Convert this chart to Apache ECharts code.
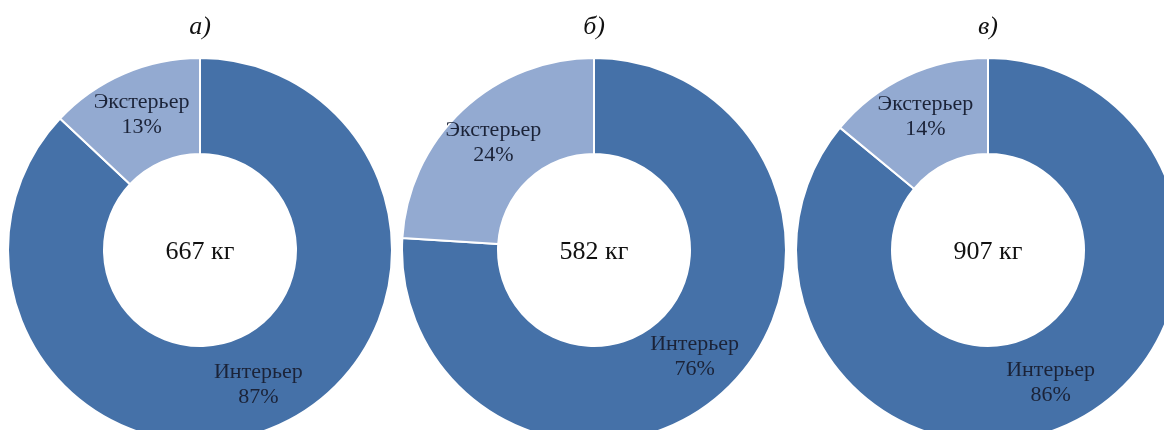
<!DOCTYPE html>
<html>
<head>
<meta charset="utf-8">
<script src="https://cdn.jsdelivr.net/npm/echarts@6/dist/echarts.min.js"></script>
<style>
  html, body { margin: 0; padding: 0; background: #fff; }
  #chart { width: 1164px; height: 430px; }
</style>
</head>
<body>
<div id="chart"></div>
<script>
const panelTitles = ['а)', 'б)', 'в)'];
const totals = [667, 582, 907];
const sliceNames = ['Интерьер', 'Экстерьер'];
const interiorPct = [87, 76, 86];
const exteriorPct = [13, 24, 14];

const centersX = [200, 594, 988];
const centerY = 250;
const colors = ['#4571a8', '#93aad1'];
const serif = '"Liberation Serif", "DejaVu Serif", serif';

const mychart = echarts.init(document.getElementById('chart'), null, { renderer: 'canvas' });

const series = panelTitles.map((t, i) => ({
  type: 'pie',
  center: [centersX[i], centerY],
  radius: [96, 192],
  startAngle: 90,
  clockwise: true,
  avoidLabelOverlap: false,
  silent: true,
  itemStyle: { borderColor: '#fff', borderWidth: 2 },
  label: {
    show: true,
    position: 'inside',
    formatter: '{b}\n{c}%',
    fontFamily: serif,
    fontSize: 22,
    lineHeight: 25,
    color: '#1b2338'
  },
  labelLine: { show: false },
  data: [
    { name: sliceNames[0], value: interiorPct[i], itemStyle: { color: colors[0] } },
    { name: sliceNames[1], value: exteriorPct[i], itemStyle: { color: colors[1] } }
  ]
}));

const graphics = [];
panelTitles.forEach((t, i) => {
  graphics.push({
    type: 'text',
    x: centersX[i],
    y: 27,
    style: {
      text: t,
      font: 'italic 26px ' + serif,
      fill: '#111',
      textAlign: 'center',
      textVerticalAlign: 'middle'
    }
  });
  graphics.push({
    type: 'text',
    x: centersX[i],
    y: centerY + 2,
    style: {
      text: totals[i] + ' кг',
      font: '26px ' + serif,
      fill: '#111',
      textAlign: 'center',
      textVerticalAlign: 'middle'
    }
  });
});

mychart.setOption({
  backgroundColor: '#fff',
  animation: false,
  series: series,
  graphic: graphics
});
</script>
</body>
</html>
